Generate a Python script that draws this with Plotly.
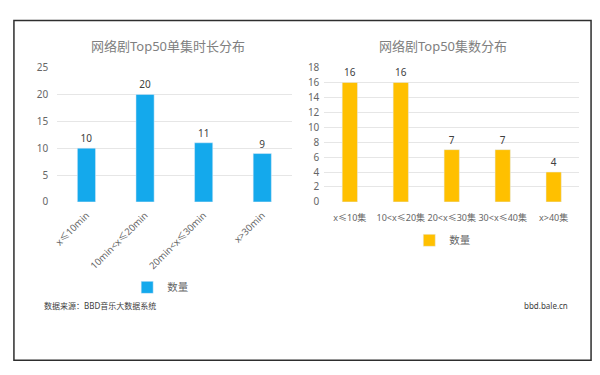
import plotly.graph_objects as go

# Data
dur_categories = ["x≤10min", "10min<x≤20min", "20min<x≤30min", "x>30min"]
dur_values = [10, 20, 11, 9]
ep_categories = ["x≤10集", "10<x≤20集", "20<x≤30集", "30<x≤40集", "x>40集"]
ep_values = [16, 16, 7, 7, 4]
series_name = "数量"
left_title = "网络剧Top50单集时长分布"
right_title = "网络剧Top50集数分布"
source_text = "数据来源：BBD音乐大数据系统"
site_text = "bbd.bale.cn"

W, H = 600, 375
def px(x): return x / W
def py(y): return 1 - y / H

FONT = "Noto Sans, Noto Sans CJK SC, sans-serif"
BLUE = "#14A9EC"
ORANGE = "#FFC000"
GRID = "#E6E6E6"
TICK = "#666666"

fig = go.Figure()
fig.add_trace(go.Bar(
    x=dur_categories, y=dur_values, name=series_name, marker_color=BLUE,
    width=0.31, text=dur_values, textposition="outside",
    textfont=dict(size=10, color="#404040"), cliponaxis=False,
    xaxis="x", yaxis="y", legend="legend",
))
fig.add_trace(go.Bar(
    x=ep_categories, y=ep_values, name=series_name, marker_color=ORANGE,
    width=0.3, text=ep_values, textposition="outside",
    textfont=dict(size=10, color="#404040"), cliponaxis=False,
    xaxis="x2", yaxis="y2", legend="legend2",
))

def axis_common(size=10):
    return dict(showline=False, zeroline=False, tickfont=dict(size=size, color=TICK, family=FONT))

fig.update_layout(
    width=W, height=H, autosize=False, margin=dict(l=0, r=0, t=0, b=0, pad=0),
    paper_bgcolor="white", plot_bgcolor="white",
    font=dict(family=FONT, color=TICK),
    xaxis=dict(domain=[px(53.5), px(289.5)], anchor="y", tickangle=-45, showgrid=False,
               ticks="", range=[-0.5, 3.5], ticklabelstandoff=5, **axis_common(9.5)),
    yaxis=dict(domain=[py(202), py(62)], anchor="x", range=[0, 25], dtick=5,
               showgrid=True, gridcolor=GRID, gridwidth=1, ticks="", ticklabelstandoff=8, **axis_common(10)),
    xaxis2=dict(domain=[px(322.5), px(579)], anchor="y2", tickangle=0, showgrid=False,
                ticks="", range=[-0.5, 4.5], ticklabelstandoff=9, **axis_common(9)),
    yaxis2=dict(domain=[py(202), py(62)], anchor="x2", range=[0, 18], dtick=2,
                showgrid=True, gridcolor=GRID, gridwidth=1, ticks="", ticklabelstandoff=4, **axis_common(10)),
    legend=dict(x=px(124), y=py(291), xanchor="left", yanchor="middle",
                font=dict(size=10.5, color=TICK), bgcolor="rgba(0,0,0,0)", itemwidth=30),
    legend2=dict(x=px(408), y=py(242), xanchor="left", yanchor="middle",
                 font=dict(size=10.5, color=TICK), bgcolor="rgba(0,0,0,0)", itemwidth=30),
    showlegend=True,
)

fig.add_annotation(text=left_title, x=px(165), y=py(40), xref="paper", yref="paper",
                   xanchor="center", yanchor="middle",
                   showarrow=False, font=dict(size=13, color="#808080", family=FONT))
fig.add_annotation(text=right_title, x=px(442), y=py(40), xref="paper", yref="paper",
                   xanchor="center", yanchor="middle",
                   showarrow=False, font=dict(size=13, color="#808080", family=FONT))
fig.add_annotation(text=source_text, x=px(38), y=py(310), xref="paper", yref="paper",
                   xanchor="left", yanchor="middle", showarrow=False,
                   font=dict(size=8, color="#404040", family=FONT))
fig.add_annotation(text=site_text, x=px(570), y=py(310), xref="paper", yref="paper",
                   xanchor="right", yanchor="middle", showarrow=False,
                   font=dict(size=8, color="#404040", family=FONT))

fig.add_shape(type="rect", xref="paper", yref="paper",
              x0=px(10), y0=py(13), x1=px(591), y1=py(367),
              line=dict(color="#2E2E2E", width=1.5), fillcolor="rgba(0,0,0,0)")

fig.write_html("out.html", config={"displayModeBar": False},
               post_script="document.body.style.margin='0';document.body.style.overflow='hidden';")
